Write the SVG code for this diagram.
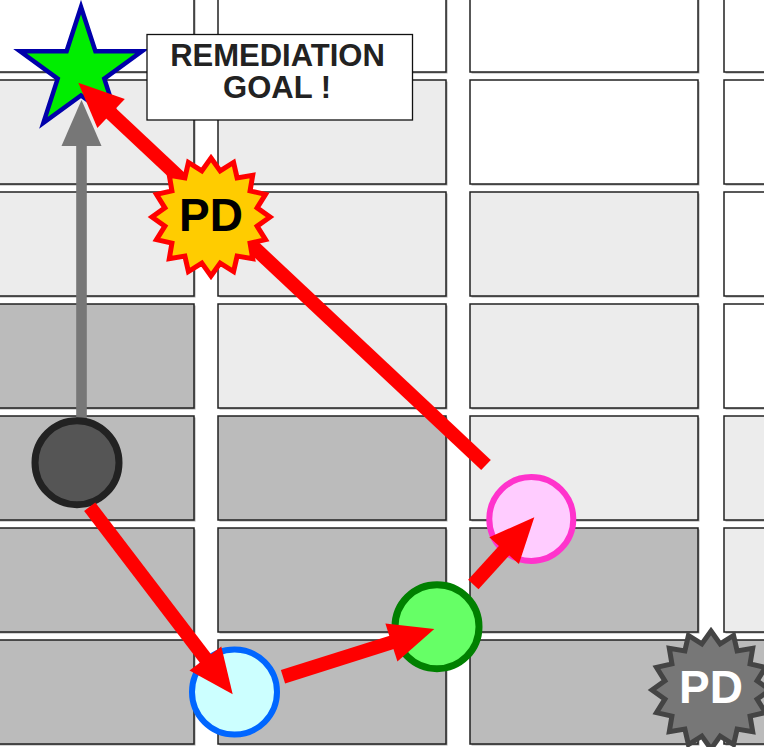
<svg xmlns="http://www.w3.org/2000/svg" width="764" height="747" viewBox="0 0 764 747">
<style>
.cell{stroke:#222;stroke-width:1.5}
.sh{fill:#a8a8a8}
.w{fill:#ffffff}
.l{fill:#ececec}
.d{fill:#bbbbbb}
.red{stroke:#ff0000;stroke-width:14;fill:none;stroke-linecap:butt}
.redhead{fill:#ff0000}
.lbl{font-family:"Liberation Sans",Arial,sans-serif;font-weight:bold;text-anchor:middle}
</style>
<defs>
<rect id="c" width="228" height="104"/>
<polygon id="burst" points="0,-59 9.17,-46.1 22.58,-54.51 26.11,-39.08 41.72,-41.72 39.08,-26.11 54.51,-22.58 46.1,-9.17 59,0 46.1,9.17 54.51,22.58 39.08,26.11 41.72,41.72 26.11,39.08 22.58,54.51 9.17,46.1 0,59 -9.17,46.1 -22.58,54.51 -26.11,39.08 -41.72,41.72 -39.08,26.11 -54.51,22.58 -46.1,9.17 -59,0 -46.1,-9.17 -54.51,-22.58 -39.08,-26.11 -41.72,-41.72 -26.11,-39.08 -22.58,-54.51 -9.17,-46.1"/>
</defs>
<rect width="764" height="747" fill="#ffffff"/>
<g id="grid">
<g class="sh">
<use href="#c" x="-32.5" y="-30.5"/><use href="#c" x="219.5" y="-30.5"/><use href="#c" x="471.5" y="-30.5"/><use href="#c" x="725.5" y="-30.5"/>
<use href="#c" x="-32.5" y="81.5"/><use href="#c" x="219.5" y="81.5"/><use href="#c" x="471.5" y="81.5"/><use href="#c" x="725.5" y="81.5"/>
<use href="#c" x="-32.5" y="193.5"/><use href="#c" x="219.5" y="193.5"/><use href="#c" x="471.5" y="193.5"/><use href="#c" x="725.5" y="193.5"/>
<use href="#c" x="-32.5" y="305.5"/><use href="#c" x="219.5" y="305.5"/><use href="#c" x="471.5" y="305.5"/><use href="#c" x="725.5" y="305.5"/>
<use href="#c" x="-32.5" y="417.5"/><use href="#c" x="219.5" y="417.5"/><use href="#c" x="471.5" y="417.5"/><use href="#c" x="725.5" y="417.5"/>
<use href="#c" x="-32.5" y="529.5"/><use href="#c" x="219.5" y="529.5"/><use href="#c" x="471.5" y="529.5"/><use href="#c" x="725.5" y="529.5"/>
<use href="#c" x="-32.5" y="641.5"/><use href="#c" x="219.5" y="641.5"/><use href="#c" x="471.5" y="641.5"/><use href="#c" x="725.5" y="641.5"/>
</g>
<g class="cell">
<use href="#c" class="w" x="-34" y="-32"/><use href="#c" class="w" x="218" y="-32"/><use href="#c" class="w" x="470" y="-32"/><use href="#c" class="w" x="724" y="-32"/>
<use href="#c" class="l" x="-34" y="80"/><use href="#c" class="l" x="218" y="80"/><use href="#c" class="w" x="470" y="80"/><use href="#c" class="w" x="724" y="80"/>
<use href="#c" class="l" x="-34" y="192"/><use href="#c" class="l" x="218" y="192"/><use href="#c" class="l" x="470" y="192"/><use href="#c" class="w" x="724" y="192"/>
<use href="#c" class="d" x="-34" y="304"/><use href="#c" class="l" x="218" y="304"/><use href="#c" class="l" x="470" y="304"/><use href="#c" class="w" x="724" y="304"/>
<use href="#c" class="d" x="-34" y="416"/><use href="#c" class="d" x="218" y="416"/><use href="#c" class="l" x="470" y="416"/><use href="#c" class="l" x="724" y="416"/>
<use href="#c" class="d" x="-34" y="528"/><use href="#c" class="d" x="218" y="528"/><use href="#c" class="d" x="470" y="528"/><use href="#c" class="l" x="724" y="528"/>
<use href="#c" class="d" x="-34" y="640"/><use href="#c" class="d" x="218" y="640"/><use href="#c" class="d" x="470" y="640"/><use href="#c" class="d" x="724" y="640"/>
</g>
</g>
<g id="connectors">
<g id="gray-arrow">
<line x1="81.5" y1="420" x2="81.5" y2="140" stroke="#777777" stroke-width="10.6"/>
<polygon points="81.5,100 61.5,146 101.5,146" fill="#777777"/>
</g>
</g>
<g id="goal-star">
<polygon points="81,7 95.4,51.2 141.9,51.2 104.3,78.6 118.6,122.8 81,95.5 43.4,122.8 57.7,78.6 20.1,51.2 66.6,51.2" fill="#00ee00" stroke="#0000aa" stroke-width="4.5" stroke-linejoin="miter"/>
</g>
<g id="goal-label">
<rect x="147" y="34.5" width="265.5" height="85.5" fill="#ffffff" stroke="#111" stroke-width="1.3"/>
<text class="lbl" font-size="31" fill="#222"><tspan x="277.5" y="65.5">REMEDIATION</tspan><tspan x="277" y="97.5">GOAL !</tspan></text>
</g>
<g id="node-dark"><circle cx="77" cy="462.7" r="42" fill="#555555" stroke="#222222" stroke-width="7"/></g>
<g id="node-blue"><circle cx="234.5" cy="692" r="42.5" fill="#ccffff" stroke="#0066ff" stroke-width="6"/></g>
<g id="node-green"><circle cx="437" cy="626.7" r="42" fill="#66ff66" stroke="#008000" stroke-width="7"/></g>
<g id="node-pink"><circle cx="531.3" cy="519" r="42" fill="#ffccff" stroke="#ff33cc" stroke-width="6"/></g>
<g id="red-connectors">
<line class="red" x1="89.7" y1="506.7" x2="206.6" y2="660.1"/>
<polygon class="redhead" points="232.7,694.3 189.5,670.6 221.3,646.4"/>
<line class="red" x1="283" y1="676.7" x2="393.3" y2="641.9"/>
<polygon class="redhead" points="434.3,629 397.4,661.6 385.4,623.4"/>
<line class="red" x1="473.3" y1="584.5" x2="505.4" y2="549.1"/>
<polygon class="redhead" points="534.3,517.3 518.9,564 489.3,537.2"/>
<line class="red" x1="486" y1="465" x2="109.7" y2="112.1"/>
<polygon class="redhead" points="78.3,82.7 124.8,98.9 97.4,128.1"/>
</g>
<g id="pd-yellow">
<use href="#burst" x="211" y="217" fill="#ffcc00" stroke="#ff0000" stroke-width="5"/>
<text class="lbl" x="211" y="231" font-size="46" fill="#000">PD</text>
</g>
<g id="pd-gray">
<use href="#burst" x="711" y="690" fill="#777777" stroke="#444444" stroke-width="5"/>
<text class="lbl" x="711" y="703" font-size="46" fill="#ffffff">PD</text>
</g>
</svg>
